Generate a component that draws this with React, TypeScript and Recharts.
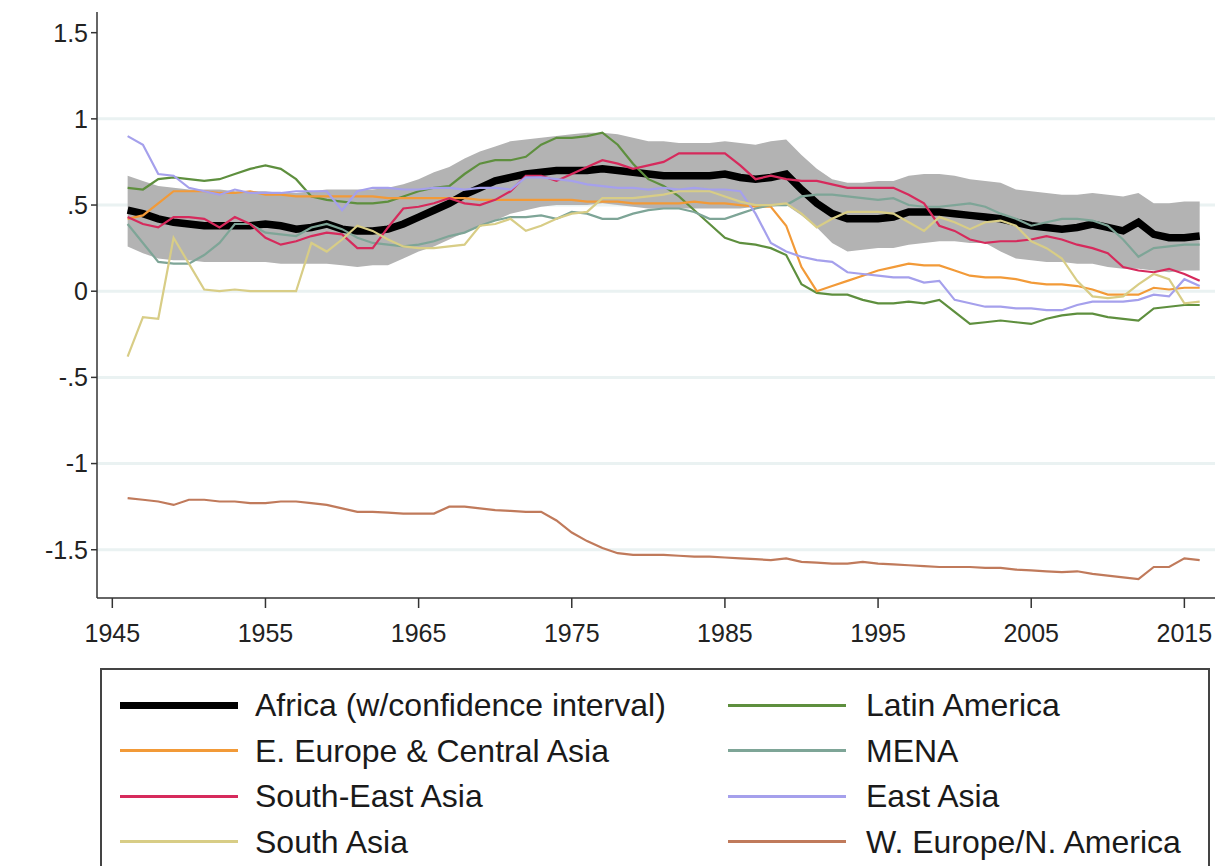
import React from 'react';
import { ComposedChart, Line, Area, XAxis, YAxis, CartesianGrid } from 'recharts';

const years = [
  1946, 1947, 1948, 1949, 1950, 1951, 1952, 1953, 1954, 1955,
  1956, 1957, 1958, 1959, 1960, 1961, 1962, 1963, 1964, 1965,
  1966, 1967, 1968, 1969, 1970, 1971, 1972, 1973, 1974, 1975,
  1976, 1977, 1978, 1979, 1980, 1981, 1982, 1983, 1984, 1985,
  1986, 1987, 1988, 1989, 1990, 1991, 1992, 1993, 1994, 1995,
  1996, 1997, 1998, 1999, 2000, 2001, 2002, 2003, 2004, 2005,
  2006, 2007, 2008, 2009, 2010, 2011, 2012, 2013, 2014, 2015,
  2016,
];

const africa = [
  0.47, 0.45, 0.42, 0.40, 0.39, 0.38, 0.38, 0.38, 0.38, 0.39,
  0.38, 0.36, 0.37, 0.39, 0.36, 0.35, 0.35, 0.36, 0.39, 0.43,
  0.47, 0.51, 0.56, 0.60, 0.64, 0.66, 0.68, 0.69, 0.70, 0.70,
  0.70, 0.71, 0.70, 0.69, 0.68, 0.67, 0.67, 0.67, 0.67, 0.68,
  0.66, 0.65, 0.66, 0.68, 0.59, 0.51, 0.45, 0.42, 0.42, 0.42,
  0.43, 0.46, 0.46, 0.46, 0.45, 0.44, 0.43, 0.42, 0.40, 0.38,
  0.37, 0.36, 0.37, 0.39, 0.37, 0.35, 0.40, 0.33, 0.31, 0.31,
  0.32,
];

const africaLow = [
  0.26, 0.22, 0.19, 0.18, 0.18, 0.17, 0.17, 0.17, 0.17, 0.17,
  0.16, 0.16, 0.16, 0.16, 0.15, 0.14, 0.15, 0.15, 0.19, 0.23,
  0.26, 0.30, 0.34, 0.38, 0.41, 0.45, 0.47, 0.49, 0.50, 0.50,
  0.50, 0.51, 0.50, 0.49, 0.48, 0.48, 0.48, 0.48, 0.48, 0.48,
  0.48, 0.49, 0.49, 0.50, 0.44, 0.37, 0.28, 0.23, 0.24, 0.25,
  0.25, 0.27, 0.28, 0.29, 0.29, 0.28, 0.28, 0.23, 0.19, 0.18,
  0.17, 0.17, 0.16, 0.16, 0.14, 0.13, 0.13, 0.12, 0.11, 0.12,
  0.12,
];

const africaHigh = [
  0.67, 0.64, 0.61, 0.60, 0.59, 0.59, 0.59, 0.58, 0.58, 0.58,
  0.57, 0.57, 0.58, 0.59, 0.59, 0.59, 0.59, 0.60, 0.62, 0.65,
  0.69, 0.72, 0.77, 0.81, 0.84, 0.87, 0.88, 0.89, 0.90, 0.91,
  0.92, 0.92, 0.91, 0.89, 0.87, 0.87, 0.86, 0.86, 0.86, 0.87,
  0.86, 0.85, 0.87, 0.88, 0.79, 0.71, 0.65, 0.63, 0.63, 0.64,
  0.64, 0.67, 0.68, 0.68, 0.67, 0.65, 0.64, 0.63, 0.59, 0.58,
  0.57, 0.56, 0.56, 0.57, 0.56, 0.55, 0.57, 0.51, 0.51, 0.52,
  0.52,
];

const eEurope = [
  0.42, 0.44, 0.51, 0.58, 0.58, 0.58, 0.57, 0.57, 0.58, 0.56,
  0.56, 0.55, 0.55, 0.55, 0.55, 0.55, 0.55, 0.54, 0.54, 0.54,
  0.54, 0.54, 0.54, 0.53, 0.53, 0.53, 0.53, 0.53, 0.53, 0.53,
  0.52, 0.52, 0.52, 0.51, 0.51, 0.51, 0.51, 0.52, 0.51, 0.51,
  0.50, 0.49, 0.49, 0.38, 0.14, 0.00, 0.03, 0.06, 0.09, 0.12,
  0.14, 0.16, 0.15, 0.15, 0.12, 0.09, 0.08, 0.08, 0.07, 0.05,
  0.04, 0.04, 0.03, 0.01, -0.02, -0.02, -0.02, 0.02, 0.01, 0.02,
  0.02,
];

const seAsia = [
  0.43, 0.39, 0.37, 0.43, 0.43, 0.42, 0.37, 0.43, 0.39, 0.31,
  0.27, 0.29, 0.32, 0.34, 0.33, 0.25, 0.25, 0.37, 0.48, 0.49,
  0.51, 0.54, 0.51, 0.50, 0.53, 0.58, 0.67, 0.67, 0.64, 0.68,
  0.72, 0.76, 0.74, 0.71, 0.73, 0.75, 0.80, 0.80, 0.80, 0.80,
  0.73, 0.65, 0.67, 0.65, 0.64, 0.64, 0.62, 0.60, 0.60, 0.60,
  0.60, 0.56, 0.51, 0.38, 0.35, 0.30, 0.28, 0.29, 0.29, 0.30,
  0.32, 0.30, 0.27, 0.25, 0.22, 0.14, 0.12, 0.11, 0.13, 0.10,
  0.06,
];

const southAsia = [
  -0.38, -0.15, -0.16, 0.31, 0.16, 0.01, 0.00, 0.01, 0.00, 0.00,
  0.00, 0.00, 0.28, 0.23, 0.30, 0.38, 0.35, 0.30, 0.26, 0.25,
  0.25, 0.26, 0.27, 0.38, 0.39, 0.42, 0.35, 0.38, 0.42, 0.45,
  0.46, 0.54, 0.54, 0.54, 0.55, 0.56, 0.58, 0.58, 0.58, 0.55,
  0.52, 0.50, 0.50, 0.51, 0.45, 0.37, 0.42, 0.46, 0.46, 0.46,
  0.45, 0.40, 0.35, 0.43, 0.40, 0.36, 0.40, 0.41, 0.38, 0.29,
  0.25, 0.19, 0.06, -0.03, -0.04, -0.03, 0.04, 0.10, 0.07, -0.07,
  -0.06,
];

const latinAmerica = [
  0.60, 0.59, 0.65, 0.66, 0.65, 0.64, 0.65, 0.68, 0.71, 0.73,
  0.71, 0.65, 0.55, 0.53, 0.52, 0.51, 0.51, 0.52, 0.55, 0.58,
  0.60, 0.61, 0.68, 0.74, 0.76, 0.76, 0.78, 0.85, 0.89, 0.89,
  0.90, 0.92, 0.85, 0.74, 0.65, 0.61, 0.55, 0.47, 0.39, 0.31,
  0.28, 0.27, 0.25, 0.21, 0.04, -0.01, -0.02, -0.02, -0.05, -0.07,
  -0.07, -0.06, -0.07, -0.05, -0.12, -0.19, -0.18, -0.17, -0.18, -0.19,
  -0.16, -0.14, -0.13, -0.13, -0.15, -0.16, -0.17, -0.10, -0.09, -0.08,
  -0.08,
];

const mena = [
  0.39, 0.28, 0.17, 0.16, 0.16, 0.21, 0.28, 0.39, 0.39, 0.34,
  0.33, 0.32, 0.37, 0.39, 0.36, 0.31, 0.28, 0.27, 0.26, 0.27,
  0.29, 0.32, 0.34, 0.38, 0.41, 0.43, 0.43, 0.44, 0.42, 0.46,
  0.45, 0.42, 0.42, 0.45, 0.47, 0.48, 0.48, 0.46, 0.42, 0.42,
  0.45, 0.48, 0.50, 0.50, 0.55, 0.56, 0.56, 0.55, 0.54, 0.53,
  0.54, 0.50, 0.49, 0.49, 0.50, 0.51, 0.49, 0.45, 0.42, 0.38,
  0.40, 0.42, 0.42, 0.41, 0.38, 0.30, 0.20, 0.25, 0.26, 0.27,
  0.27,
];

const eastAsia = [
  0.90, 0.85, 0.68, 0.67, 0.60, 0.58, 0.56, 0.59, 0.57, 0.57,
  0.57, 0.58, 0.58, 0.58, 0.47, 0.58, 0.60, 0.60, 0.59, 0.59,
  0.60, 0.60, 0.59, 0.60, 0.60, 0.59, 0.66, 0.66, 0.65, 0.64,
  0.62, 0.61, 0.60, 0.60, 0.59, 0.60, 0.59, 0.60, 0.59, 0.59,
  0.58, 0.45, 0.28, 0.23, 0.20, 0.18, 0.17, 0.11, 0.10, 0.09,
  0.08, 0.08, 0.05, 0.06, -0.05, -0.07, -0.09, -0.09, -0.10, -0.10,
  -0.11, -0.11, -0.08, -0.06, -0.06, -0.06, -0.05, -0.02, -0.03, 0.07,
  0.03,
];

const wEurope = [
  -1.20, -1.21, -1.22, -1.24, -1.21, -1.21, -1.22, -1.22, -1.23, -1.23,
  -1.22, -1.22, -1.23, -1.24, -1.26, -1.28, -1.28, -1.285, -1.29, -1.29,
  -1.29, -1.25, -1.25, -1.26, -1.27, -1.275, -1.28, -1.28, -1.33, -1.40,
  -1.45, -1.49, -1.52, -1.53, -1.53, -1.53, -1.535, -1.54, -1.54, -1.545,
  -1.55, -1.555, -1.56, -1.55, -1.57, -1.575, -1.58, -1.58, -1.57, -1.58,
  -1.585, -1.59, -1.595, -1.60, -1.60, -1.60, -1.605, -1.605, -1.615, -1.62,
  -1.625, -1.63, -1.625, -1.64, -1.65, -1.66, -1.67, -1.60, -1.60, -1.55,
  -1.56,
];

const xTicks = [1945, 1955, 1965, 1975, 1985, 1995, 2005, 2015];
const yTicks = [1.5, 1, 0.5, 0, -0.5, -1, -1.5];
const yTickLabels = ['1.5', '1', '.5', '0', '-.5', '-1', '-1.5'];
const gridValues = [1, 0.5, 0, -0.5, -1, -1.5];

const legendNames = [
  'Africa (w/confidence interval)',
  'E. Europe & Central Asia',
  'South-East Asia',
  'South Asia',
  'Latin America',
  'MENA',
  'East Asia',
  'W. Europe/N. America',
];

const C = {
  africa: '#000000',
  band: '#b3b3b3',
  eEurope: '#f29a38',
  seAsia: '#d62a5c',
  southAsia: '#d8cd86',
  latin: '#5e8f3e',
  mena: '#7ea597',
  east: '#a5a0ec',
  west: '#c07a5b',
};

const legendColors = [C.africa, C.eEurope, C.seAsia, C.southAsia, C.latin, C.mena, C.east, C.west];

const data = years.map((y, i) => ({
  year: y,
  band: [africaLow[i], africaHigh[i]],
  africa: africa[i],
  eEurope: eEurope[i],
  seAsia: seAsia[i],
  southAsia: southAsia[i],
  latin: latinAmerica[i],
  mena: mena[i],
  east: eastAsia[i],
  west: wEurope[i],
}));

const FONT = '"Liberation Sans", Arial, Helvetica, sans-serif';

function yFmt(v: number) {
  const idx = yTicks.findIndex((t) => Math.abs(t - v) < 1e-9);
  return idx >= 0 ? yTickLabels[idx] : String(v);
}

export default function App() {
  const tickStyle = { fontSize: 25, fill: '#222', fontFamily: FONT };
  return (
    <div style={{ position: 'absolute', left: 0, top: 0, width: 1224, height: 866, overflow: 'hidden', background: '#fff' }}>
      <ComposedChart
        width={1224}
        height={660}
        data={data}
        margin={{ top: 12, right: 9, left: 0, bottom: 22 }}
      >
        <CartesianGrid
          vertical={false}
          horizontalValues={gridValues}
          stroke="#eaf2f2"
          strokeWidth={3}
        />
        <XAxis
          dataKey="year"
          type="number"
          domain={[1944, 2017]}
          ticks={xTicks}
          height={40}
          tickSize={10}
          tickMargin={16}
          tick={tickStyle}
          stroke="#333"
          strokeWidth={1.5}
          allowDataOverflow
        />
        <YAxis
          type="number"
          domain={[-1.78, 1.62]}
          ticks={yTicks}
          tickFormatter={yFmt}
          width={97}
          tickSize={6}
          tickMargin={3}
          tick={tickStyle}
          stroke="#333"
          strokeWidth={1.5}
          allowDataOverflow
        />
        <Area
          dataKey="band"
          type="linear"
          fill={C.band}
          fillOpacity={1}
          stroke="none"
          isAnimationActive={false}
        />
        <Line dataKey="africa" type="linear" stroke={C.africa} strokeWidth={7.5} dot={false} isAnimationActive={false} />
        <Line dataKey="latin" type="linear" stroke={C.latin} strokeWidth={2.2} dot={false} isAnimationActive={false} />
        <Line dataKey="eEurope" type="linear" stroke={C.eEurope} strokeWidth={2.2} dot={false} isAnimationActive={false} />
        <Line dataKey="mena" type="linear" stroke={C.mena} strokeWidth={2.2} dot={false} isAnimationActive={false} />
        <Line dataKey="seAsia" type="linear" stroke={C.seAsia} strokeWidth={2.2} dot={false} isAnimationActive={false} />
        <Line dataKey="east" type="linear" stroke={C.east} strokeWidth={2.2} dot={false} isAnimationActive={false} />
        <Line dataKey="southAsia" type="linear" stroke={C.southAsia} strokeWidth={2.2} dot={false} isAnimationActive={false} />
        <Line dataKey="west" type="linear" stroke={C.west} strokeWidth={2.2} dot={false} isAnimationActive={false} />
      </ComposedChart>
      <div
        style={{
          position: 'absolute',
          left: 100,
          top: 668,
          width: 1110,
          height: 230,
          border: '2px solid #444',
          boxSizing: 'border-box',
          background: '#fff',
          fontFamily: FONT,
          fontSize: 32,
          color: '#1a1a1a',
        }}
      >
        {legendNames.map((name, i) => {
          const col = i < 4 ? 0 : 1;
          const row = i % 4;
          const lineLeft = col === 0 ? 18 : 626;
          const textLeft = col === 0 ? 153 : 764;
          const cy = 35 + row * 45.5;
          return (
            <React.Fragment key={name}>
              <div
                style={{
                  position: 'absolute',
                  left: lineLeft,
                  top: cy - (i === 0 ? 3.5 : 1.5),
                  width: 118,
                  height: i === 0 ? 7 : 3,
                  background: legendColors[i],
                }}
              />
              <div
                style={{
                  position: 'absolute',
                  left: textLeft,
                  top: cy - 19,
                  lineHeight: '38px',
                  whiteSpace: 'nowrap',
                }}
              >
                {name}
              </div>
            </React.Fragment>
          );
        })}
      </div>
    </div>
  );
}
